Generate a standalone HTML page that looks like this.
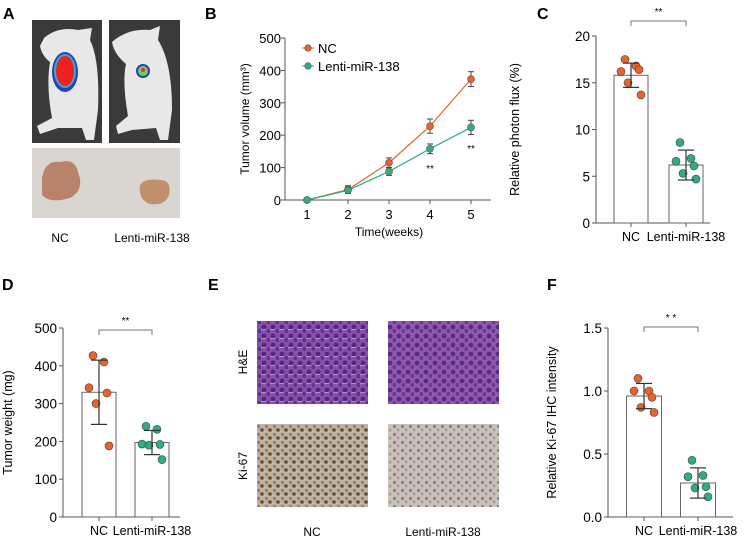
<!DOCTYPE html>
<html><head><meta charset="utf-8"><style>
body{margin:0;background:#fff;}
svg{display:block;font-family:"Liberation Sans",Arial,sans-serif;}
</style></head><body>
<svg id="fig" width="753" height="542" viewBox="0 0 753 542" xmlns="http://www.w3.org/2000/svg">
<defs>
<pattern id="he1" width="9" height="9" patternUnits="userSpaceOnUse"><rect width="9" height="9" fill="#8a4fa8"/><circle cx="3" cy="3" r="2.4" fill="#4e2a7e"/><circle cx="7.5" cy="7" r="2" fill="#5b3390"/><path d="M0 6 L5 5" stroke="#e6d6ef" stroke-width="0.6"/></pattern>
<pattern id="he2" width="9" height="9" patternUnits="userSpaceOnUse"><rect width="9" height="9" fill="#9456ae"/><circle cx="3" cy="3" r="2.4" fill="#52307f"/><circle cx="7.5" cy="7" r="2" fill="#633b93"/></pattern>
<pattern id="ki1" width="8" height="8" patternUnits="userSpaceOnUse"><rect width="8" height="8" fill="#c2b49c"/><circle cx="2.5" cy="2.5" r="1.7" fill="#7d84a6"/><circle cx="6" cy="6" r="1.8" fill="#6a4a2e"/></pattern>
<pattern id="ki2" width="8" height="8" patternUnits="userSpaceOnUse"><rect width="8" height="8" fill="#cdc3b0"/><circle cx="2.5" cy="2.5" r="1.7" fill="#8089ad"/><circle cx="6" cy="6" r="1.5" fill="#9a9bb5"/></pattern>
</defs>

<!-- Panel A -->
<g>
<text x="3" y="19" font-size="16" font-weight="bold">A</text>
<rect x="32" y="20" width="70" height="123" fill="#3a3a3a"/>
<path d="M44 38 Q58 26 78 30 L92 28 L90 40 Q100 60 98 110 L94 140 L86 140 L82 128 L58 128 L40 134 L37 126 L52 118 Q46 86 50 62 Q42 56 40 46 Z" fill="#e8e8e8"/>
<ellipse cx="65" cy="72" rx="13" ry="20" fill="#2a3fbf"/>
<ellipse cx="65" cy="71" rx="11" ry="17" fill="#2ab0c8"/>
<ellipse cx="65" cy="71" rx="9" ry="15" fill="#f02020"/>
<rect x="109" y="20" width="71" height="123" fill="#3a3a3a"/>
<path d="M112 42 Q128 28 150 30 L160 26 L158 40 Q172 62 172 110 L168 140 L160 140 L156 128 L132 130 L118 134 L116 126 L128 116 Q122 82 126 64 Q114 54 112 42 Z" fill="#e8e8e8"/>
<ellipse cx="143" cy="71" rx="7" ry="7" fill="#2a3fbf"/>
<ellipse cx="143" cy="71" rx="5" ry="5" fill="#6fd060"/>
<circle cx="143" cy="70" r="2" fill="#f03020"/>
<rect x="32" y="148" width="148" height="70" fill="#d9d6d2"/>
<path d="M42 178 Q45 160 60 162 Q75 158 78 172 Q85 190 70 198 Q50 204 42 195 Z" fill="#b9826a"/>
<path d="M140 185 Q145 178 160 180 Q172 180 169 195 Q165 206 150 204 Q138 200 140 185 Z" fill="#c0906c"/>
<text x="60" y="242" font-size="12" text-anchor="middle">NC</text>
<text x="152" y="242" font-size="12" text-anchor="middle">Lenti-miR-138</text>
</g>

<!-- Panel E -->
<g>
<text x="208" y="290" font-size="16" font-weight="bold">E</text>
<rect x="257" y="321" width="111" height="83" fill="url(#he1)"/>
<rect x="388" y="321" width="111" height="83" fill="url(#he2)"/>
<rect x="257" y="424" width="111" height="83" fill="url(#ki1)"/>
<rect x="388" y="424" width="111" height="83" fill="url(#ki2)"/>
<text transform="translate(247,362) rotate(-90)" font-size="12" text-anchor="middle">H&amp;E</text>
<text transform="translate(247,466) rotate(-90)" font-size="12" text-anchor="middle">Ki-67</text>
<text x="312" y="536" font-size="12" text-anchor="middle">NC</text>
<text x="443" y="536" font-size="12" text-anchor="middle">Lenti-miR-138</text>
</g>

<text x="205" y="19" font-size="16" font-weight="bold">B</text>
<g id="panelB"></g>
<g id="panelC"></g>
<g id="panelD"></g>
<g id="panelF"></g>
</svg>
<script>
const NS="http://www.w3.org/2000/svg";
// Panel B data
const weeks=[1,2,3,4,5];
const ncVolume=[0,32,115,228,373];
const ncVolumeErr=[0,12,15,22,23];
const lentiVolume=[0,30,88,158,224];
const lentiVolumeErr=[0,10,12,15,22];
const volumeTicks=[0,100,200,300,400,500];
// Panel C data
const groups=["NC","Lenti-miR-138"];
const fluxMean=[15.8,6.2];
const fluxSD=[1.3,1.6];
const fluxNC=[17.5,16.8,16.2,16.4,15.0,13.7];
const fluxLenti=[8.6,6.9,6.6,6.1,5.3,4.7];
const fluxTicks=[0,5,10,15,20];
// Panel D data
const weightMean=[330,197];
const weightSD=[85,32];
const weightNC=[427,410,342,328,300,188];
const weightLenti=[240,232,193,192,190,152];
const weightTicks=[0,100,200,300,400,500];
// Panel F data
const kiMean=[0.96,0.27];
const kiSD=[0.1,0.12];
const kiNC=[1.1,1.0,1.0,0.95,0.87,0.83];
const kiLenti=[0.45,0.33,0.32,0.24,0.23,0.16];
const kiTicks=[0,0.5,1.0,1.5];

function mk(p,tag,attrs,txt){const e=document.createElementNS(NS,tag);for(const k in attrs)e.setAttribute(k,attrs[k]);if(txt!==undefined)e.textContent=txt;p.appendChild(e);return e;}
const ORANGE="#e8622a", GREEN="#2fae7b", AX="#555";

// ---- Panel B ----
(function(){
const g=document.getElementById('panelB');
const x0=285,x1=491,yb=200,yt=38,ymax=500;
const xs=w=>307+(w-1)*41;
const ys=v=>yb-(v/ymax)*(yb-yt);
let e=mk(g,'line',{x1:x0,y1:yt,x2:x0,y2:yb,stroke:AX,'stroke-width':1});

e=mk(g,'line',{x1:x0,y1:yb,x2:x1,y2:yb,stroke:AX,'stroke-width':1});

volumeTicks.forEach(t=>{mk(g,'line',{x1:x0-4,y1:ys(t),x2:x0,y2:ys(t),stroke:AX});
 e=mk(g,'text',{x:x0-4,y:ys(t)+5,'font-size':13,'text-anchor':'end'},String(t));
 });
weeks.forEach(w=>{mk(g,'line',{x1:xs(w),y1:yb,x2:xs(w),y2:yb+4,stroke:AX});
 e=mk(g,'text',{x:xs(w),y:219,'font-size':13,'text-anchor':'middle'},String(w));
 });
e=mk(g,'text',{transform:'translate(249,119) rotate(-90)','font-size':12,'text-anchor':'middle'},'Tumor volume (mm³)');

e=mk(g,'text',{x:389,y:236,'font-size':12,'text-anchor':'middle'},'Time(weeks)');

function series(vals,errs,col,name){
 e=mk(g,'polyline',{points:vals.map((v,i)=>xs(weeks[i])+','+ys(v)).join(' '),fill:'none',stroke:col,'stroke-width':1.2});
 
 vals.forEach((v,i)=>{const x=xs(weeks[i]);
  if(errs[i]>0){mk(g,'line',{x1:x,y1:ys(v+errs[i]),x2:x,y2:ys(v-errs[i]),stroke:'#444'});
   mk(g,'line',{x1:x-3,y1:ys(v+errs[i]),x2:x+3,y2:ys(v+errs[i]),stroke:'#444'});
   mk(g,'line',{x1:x-3,y1:ys(v-errs[i]),x2:x+3,y2:ys(v-errs[i]),stroke:'#444'});}
  e=mk(g,'circle',{cx:x,cy:ys(v),r:3.5,fill:col,stroke:'#555','stroke-width':0.6});
  });
}
series(ncVolume,ncVolumeErr,ORANGE,'nc');
series(lentiVolume,lentiVolumeErr,GREEN,'lenti');
e=mk(g,'text',{x:430,y:172,'font-size':10,'text-anchor':'middle'},'**');

e=mk(g,'text',{x:471,y:152,'font-size':10,'text-anchor':'middle'},'**');

[[ORANGE,'NC',48],[GREEN,' Lenti-miR-138',66]].forEach(([c,l,y])=>{
 mk(g,'line',{x1:302,y1:y,x2:314,y2:y,stroke:c});
 mk(g,'circle',{cx:308,cy:y,r:3.3,fill:c,stroke:'#555','stroke-width':0.6});
 e=mk(g,'text',{x:318,y:y+5,'font-size':13},l);
 });
})();

// ---- Bar panels ----
function barPanel(id,o){
const g=document.getElementById(id);
const ys=v=>o.yb-(v/o.ymax)*(o.yb-o.yt);
let e=mk(g,'line',{x1:o.x0,y1:o.yt,x2:o.x0,y2:o.yb,stroke:AX});

e=mk(g,'line',{x1:o.x0,y1:o.yb,x2:o.x1,y2:o.yb,stroke:AX});

o.ticks.forEach(t=>{mk(g,'line',{x1:o.x0-4,y1:ys(t),x2:o.x0,y2:ys(t),stroke:AX});
 e=mk(g,'text',{x:o.x0-6,y:ys(t)+5,'font-size':13.5,'text-anchor':'end'},o.fmt(t));
 });
const cols=[ORANGE,GREEN];
groups.forEach((gname,i)=>{const c=o.cx[i];
 mk(g,'line',{x1:c,y1:o.yb,x2:c,y2:o.yb+4,stroke:AX});
 e=mk(g,'text',{x:c,y:o.yb+18,'font-size':12.5,'text-anchor':'middle'},gname);
 
 e=mk(g,'rect',{x:c-o.bw/2,y:ys(o.mean[i]),width:o.bw,height:o.yb-ys(o.mean[i]),fill:'#fff',stroke:'#666','stroke-width':1});
 
 const pts=o.pts[i];
 pts.forEach((v,j)=>{const dx=[-6,5,-10,8,-3,10][j];
  e=mk(g,'circle',{cx:c+dx,cy:ys(v),r:4,fill:cols[i],stroke:'#444','stroke-width':0.6});
  });
 const hi=ys(o.mean[i]+o.sd[i]),lo=ys(o.mean[i]-o.sd[i]);
 e=mk(g,'line',{x1:c,y1:hi,x2:c,y2:lo,stroke:'#333','stroke-width':1.2});
 
 mk(g,'line',{x1:c-8,y1:hi,x2:c+8,y2:hi,stroke:'#333','stroke-width':1.2});
 mk(g,'line',{x1:c-8,y1:lo,x2:c+8,y2:lo,stroke:'#333','stroke-width':1.2});
});
e=mk(g,'path',{d:`M${o.cx[0]} ${o.br+5} V${o.br} H${o.cx[1]} V${o.br+5}`,fill:'none',stroke:'#777'});

e=mk(g,'text',{x:(o.cx[0]+o.cx[1])/2,y:o.br-6,'font-size':10,'text-anchor':'middle'},o.star);

e=mk(g,'text',{transform:`translate(${o.tx},${(o.yt+o.yb)/2}) rotate(-90)`,'font-size':12.5,'text-anchor':'middle'},o.title);

e=mk(g,'text',{x:o.lx,y:o.ly,'font-size':16,'font-weight':'bold'},o.letter);

}
barPanel('panelC',{p:'c',letter:'C',lx:537,ly:19,x0:596,x1:710,yb:223,yt:36,ymax:20,ticks:fluxTicks,fmt:t=>String(t),
 cx:[631,686],bw:34,mean:fluxMean,sd:fluxSD,pts:[fluxNC,fluxLenti],br:21,star:'**',tx:519,title:'Relative photon flux (%)'});
barPanel('panelD',{p:'d',letter:'D',lx:2,ly:290,x0:63,x1:180,yb:517,yt:328,ymax:500,ticks:weightTicks,fmt:t=>String(t),
 cx:[99,152],bw:34,mean:weightMean,sd:weightSD,pts:[weightNC,weightLenti],br:330,star:'**',tx:12,title:'Tumor weight (mg)'});
barPanel('panelF',{p:'f',letter:'F',lx:547,ly:290,x0:608,x1:733,yb:517,yt:328,ymax:1.5,ticks:kiTicks,fmt:t=>t.toFixed(1),
 cx:[644,698],bw:35,mean:kiMean,sd:kiSD,pts:[kiNC,kiLenti],br:327,star:'* *',tx:556,title:'Relative Ki-67 IHC  intensity'});
</script>
</body></html>
